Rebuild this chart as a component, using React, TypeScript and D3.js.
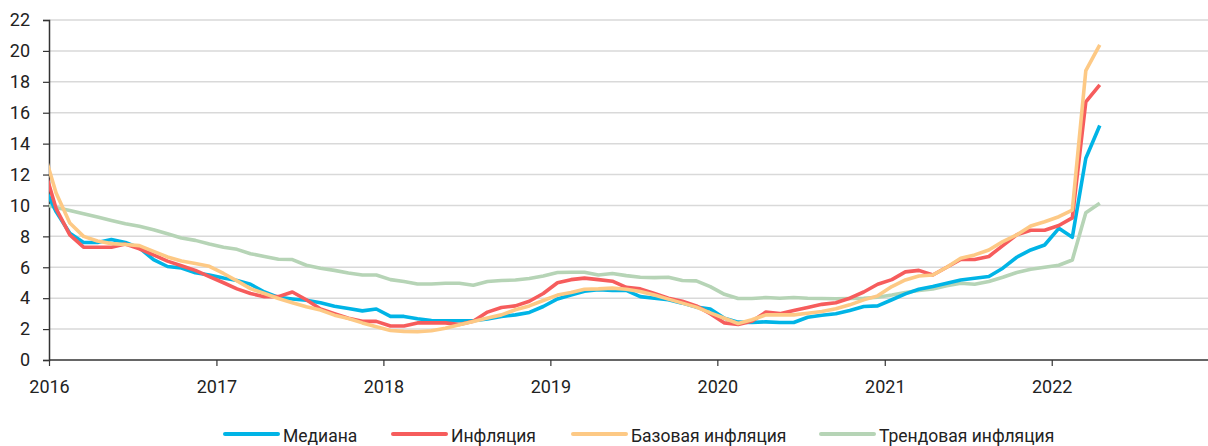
import React, { useEffect, useRef } from "react";
import * as d3 from "d3";

// Monthly series, Dec 2015 .. Apr 2022 (year-on-year, %)
const startYear = 2015;
const startMonth = 11; // December (0-based)

const median = [
  11.5,
  9.6, 8.2, 7.6, 7.6, 7.8, 7.6, 7.25, 6.5, 6.05, 5.95, 5.65, 5.5,
  5.3, 5.15, 4.9, 4.4, 4.05, 3.95, 3.87, 3.7, 3.48, 3.33, 3.18, 3.3,
  2.82, 2.82, 2.67, 2.56, 2.54, 2.54, 2.54, 2.65, 2.82, 2.92, 3.08, 3.46,
  3.95, 4.2, 4.45, 4.55, 4.5, 4.5, 4.1, 4.0, 3.9, 3.68, 3.42, 3.3,
  2.7, 2.45, 2.43, 2.47, 2.43, 2.43, 2.77, 2.9, 2.99, 3.2, 3.46, 3.5,
  3.9, 4.28, 4.58, 4.75, 4.97, 5.18, 5.29, 5.4, 5.94, 6.65, 7.12, 7.44,
  8.52, 7.94, 13.05, 15.17,
];

const inflation = [
  12.9,
  9.8, 8.1, 7.3, 7.3, 7.3, 7.5, 7.2, 6.8, 6.4, 6.1, 5.8, 5.4,
  5.0, 4.6, 4.3, 4.1, 4.1, 4.4, 3.9, 3.3, 3.0, 2.7, 2.5, 2.5,
  2.2, 2.2, 2.4, 2.4, 2.4, 2.3, 2.5, 3.1, 3.4, 3.5, 3.8, 4.3,
  5.0, 5.2, 5.3, 5.2, 5.1, 4.7, 4.6, 4.3, 4.0, 3.8, 3.5, 3.0,
  2.4, 2.3, 2.5, 3.1, 3.0, 3.2, 3.4, 3.6, 3.7, 4.0, 4.4, 4.9,
  5.2, 5.7, 5.8, 5.5, 6.0, 6.5, 6.5, 6.7, 7.4, 8.1, 8.4, 8.4,
  8.7, 9.2, 16.7, 17.8,
];

const core = [
  13.9,
  10.8, 8.86, 8.0, 7.7, 7.53, 7.47, 7.4, 7.03, 6.67, 6.4, 6.24, 6.06,
  5.6, 5.12, 4.62, 4.3, 3.98, 3.7, 3.44, 3.23, 2.9, 2.69, 2.4, 2.15,
  1.91, 1.85, 1.83, 1.89, 2.06, 2.28, 2.49, 2.71, 2.92, 3.25, 3.5, 3.85,
  4.2, 4.37, 4.58, 4.6, 4.65, 4.58, 4.43, 4.2, 3.94, 3.68, 3.42, 3.05,
  2.7, 2.36, 2.6, 2.92, 2.92, 2.92, 3.03, 3.14, 3.31, 3.57, 3.89, 4.15,
  4.75, 5.18, 5.44, 5.5, 6.0, 6.58, 6.8, 7.12, 7.66, 8.09, 8.67, 8.95,
  9.27, 9.7, 18.72, 20.39,
];

const trend = [
  10.1,
  9.87, 9.68, 9.46, 9.25, 9.03, 8.82, 8.65, 8.43, 8.17, 7.9, 7.74, 7.5,
  7.3, 7.16, 6.88, 6.7, 6.52, 6.5, 6.13, 5.94, 5.8, 5.63, 5.5, 5.5,
  5.2, 5.08, 4.92, 4.92, 4.97, 4.97, 4.84, 5.08, 5.14, 5.18, 5.27, 5.44,
  5.66, 5.68, 5.68, 5.5, 5.6, 5.46, 5.35, 5.33, 5.35, 5.14, 5.12, 4.75,
  4.25, 3.98, 3.98, 4.04, 4.0, 4.04, 4.0, 3.98, 3.96, 3.98, 4.0, 4.06,
  4.2, 4.37, 4.5, 4.6, 4.8, 4.97, 4.9, 5.08, 5.35, 5.66, 5.87, 6.0,
  6.13, 6.47, 9.53, 10.14,
];

const seriesNames = ["Медиана", "Инфляция", "Базовая инфляция", "Трендовая инфляция"];
const seriesColors = ["#00b4e6", "#f65c5c", "#fdc985", "#b6d4b6"];
const yTicks = [0, 2, 4, 6, 8, 10, 12, 14, 16, 18, 20, 22];
const yearTicks = [2016, 2017, 2018, 2019, 2020, 2021, 2022];

const W = 1208;
const H = 446;
const FONT = "Roboto, 'Noto Sans', sans-serif";

export default function App() {
  const ref = useRef<SVGSVGElement | null>(null);

  useEffect(() => {
    const svg = d3.select(ref.current);
    svg.selectAll("*").remove();

    const left = 49;
    const x = d3
      .scaleTime()
      .domain([new Date(2016, 0, 1), new Date(2023, 0, 1)])
      .range([left, left + 7 * 167.1]);
    const y = d3.scaleLinear().domain([0, 22]).range([360, 20]);

    const midMonth = (i: number) => {
      const a = new Date(startYear, startMonth + i, 1).getTime();
      const b = new Date(startYear, startMonth + i + 1, 1).getTime();
      return new Date((a + b) / 2);
    };

    svg
      .append("defs")
      .append("clipPath")
      .attr("id", "plotclip")
      .append("rect")
      .attr("x", left)
      .attr("y", 0)
      .attr("width", W - left)
      .attr("height", 362);

    svg
      .append("g")
      .selectAll("line")
      .data(yTicks.filter((t) => t > 0))
      .join("line")
      .attr("x1", left)
      .attr("x2", W)
      .attr("y1", (d) => y(d))
      .attr("y2", (d) => y(d))
      .attr("stroke", "#d9d9d9")
      .attr("stroke-width", 1.5);

    const yAxis = d3
      .axisLeft(y)
      .tickValues(yTicks)
      .tickSize(6)
      .tickPadding(13)
      .tickFormat((d) => String(d));
    const gy = svg.append("g").attr("transform", `translate(${left},0)`).call(yAxis);
    gy.select(".domain").attr("stroke", "#333").attr("stroke-width", 1.5);
    gy.selectAll(".tick line").attr("stroke", "#333").attr("stroke-width", 1.2);
    gy.selectAll("text")
      .attr("font-family", FONT)
      .attr("font-size", 18)
      .attr("fill", "#222");

    const xAxis = d3
      .axisBottom(x)
      .tickValues(yearTicks.map((yr) => new Date(yr, 0, 1)))
      .tickSize(6)
      .tickSizeOuter(0)
      .tickPadding(14)
      .tickFormat((d) => d3.timeFormat("%Y")(d as Date));
    const gx = svg.append("g").attr("transform", `translate(0,${y(0)})`).call(xAxis);
    gx.select(".domain")
      .attr("stroke", "#333")
      .attr("stroke-width", 1.5)
      .attr("d", `M${left},0H${W}`);
    gx.selectAll(".tick line").attr("stroke", "#333").attr("stroke-width", 1.2);
    gx.selectAll("text")
      .attr("font-family", FONT)
      .attr("font-size", 18)
      .attr("fill", "#222");

    const all = [median, inflation, core, trend];
    const order = [3, 0, 1, 2];
    const line = d3
      .line<number>()
      .x((_, i) => x(midMonth(i)))
      .y((d) => y(d));

    const gl = svg.append("g").attr("clip-path", "url(#plotclip)");
    order.forEach((k) => {
      gl.append("path")
        .datum(all[k])
        .attr("d", line)
        .attr("fill", "none")
        .attr("stroke", seriesColors[k])
        .attr("stroke-width", 3.6)
        .attr("stroke-linejoin", "round");
    });

    const legendX = [225, 393, 573, 821];
    const lg = svg.append("g");
    seriesNames.forEach((name, k) => {
      lg.append("line")
        .attr("x1", legendX[k])
        .attr("x2", legendX[k] + 53)
        .attr("y1", 434)
        .attr("y2", 434)
        .attr("stroke", seriesColors[k])
        .attr("stroke-width", 4)
        .attr("stroke-linecap", "round");
      lg.append("text")
        .attr("x", legendX[k] + 58)
        .attr("y", 442)
        .attr("font-family", FONT)
        .attr("font-size", 17.5)
        .attr("fill", "#222")
        .text(name);
    });
  }, []);

  return (
    <svg
      ref={ref}
      width={W}
      height={H}
      style={{ position: "absolute", left: 0, top: 0, background: "#fff" }}
    />
  );
}
